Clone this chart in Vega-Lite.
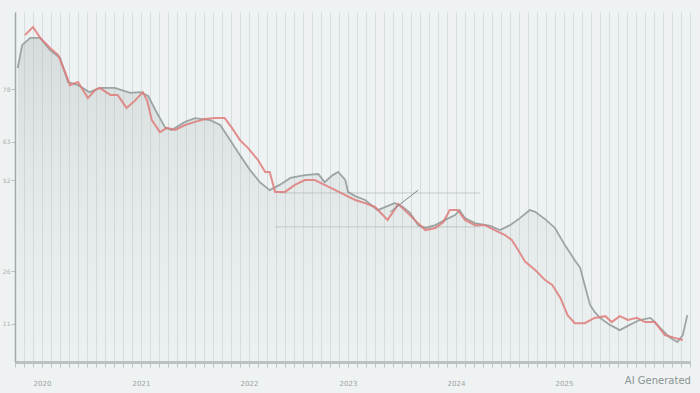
{
  "$schema": "https://vega.github.io/schema/vega-lite/v6.json",
  "width": 675,
  "height": 350,
  "autosize": {"type": "none"},
  "padding": {"left": 15, "top": 12, "right": 10, "bottom": 31},
  "background": "#eef2f2",
  "config": {"view": {"stroke": null}, "font": "DejaVu Sans"},
  "title": {"text": "AI Generated", "orient": "bottom", "anchor": "end", "fontSize": 10, "fontWeight": "normal", "color": "#8c9494", "offset": -10, "font": "DejaVu Sans"},
  "datasets": {
    "series": [
      {"t": 1.1, "v": 93.4, "s": "A"}, {"t": 2.0, "v": 95.7, "s": "A"}, {"t": 2.8, "v": 92.6, "s": "A"}, {"t": 3.9, "v": 89.7, "s": "A"},
      {"t": 4.8, "v": 87.7, "s": "A"}, {"t": 5.6, "v": 82.6, "s": "A"}, {"t": 6.1, "v": 79.1, "s": "A"}, {"t": 7.0, "v": 80.0, "s": "A"},
      {"t": 8.1, "v": 75.4, "s": "A"}, {"t": 8.9, "v": 77.7, "s": "A"}, {"t": 9.4, "v": 78.3, "s": "A"}, {"t": 10.6, "v": 76.3, "s": "A"},
      {"t": 11.4, "v": 76.3, "s": "A"}, {"t": 12.4, "v": 72.6, "s": "A"}, {"t": 13.3, "v": 74.6, "s": "A"}, {"t": 14.2, "v": 77.1, "s": "A"},
      {"t": 14.7, "v": 74.6, "s": "A"}, {"t": 15.2, "v": 69.1, "s": "A"}, {"t": 16.1, "v": 65.7, "s": "A"}, {"t": 16.9, "v": 66.9, "s": "A"},
      {"t": 17.8, "v": 66.3, "s": "A"}, {"t": 18.9, "v": 67.7, "s": "A"}, {"t": 20.0, "v": 68.6, "s": "A"}, {"t": 21.1, "v": 69.4, "s": "A"},
      {"t": 22.2, "v": 69.7, "s": "A"}, {"t": 23.3, "v": 69.7, "s": "A"}, {"t": 24.1, "v": 66.9, "s": "A"}, {"t": 25.0, "v": 63.4, "s": "A"},
      {"t": 25.9, "v": 61.1, "s": "A"}, {"t": 27.0, "v": 57.7, "s": "A"}, {"t": 27.8, "v": 54.3, "s": "A"}, {"t": 28.3, "v": 54.3, "s": "A"},
      {"t": 28.9, "v": 48.6, "s": "A"}, {"t": 30.0, "v": 48.6, "s": "A"}, {"t": 31.1, "v": 50.6, "s": "A"}, {"t": 32.2, "v": 52.0, "s": "A"},
      {"t": 33.3, "v": 52.0, "s": "A"}, {"t": 34.4, "v": 50.6, "s": "A"}, {"t": 35.6, "v": 49.1, "s": "A"}, {"t": 36.7, "v": 47.7, "s": "A"},
      {"t": 37.8, "v": 46.3, "s": "A"}, {"t": 38.9, "v": 45.4, "s": "A"}, {"t": 40.0, "v": 44.3, "s": "A"}, {"t": 41.4, "v": 40.6, "s": "A"},
      {"t": 42.6, "v": 45.1, "s": "A"}, {"t": 43.3, "v": 43.4, "s": "A"}, {"t": 44.4, "v": 40.6, "s": "A"}, {"t": 45.6, "v": 37.7, "s": "A"},
      {"t": 46.7, "v": 38.3, "s": "A"}, {"t": 47.6, "v": 40.0, "s": "A"}, {"t": 48.3, "v": 43.4, "s": "A"}, {"t": 49.2, "v": 43.4, "s": "A"},
      {"t": 50.0, "v": 40.6, "s": "A"}, {"t": 51.1, "v": 39.1, "s": "A"}, {"t": 52.2, "v": 39.1, "s": "A"}, {"t": 53.3, "v": 37.7, "s": "A"},
      {"t": 54.4, "v": 36.3, "s": "A"}, {"t": 55.2, "v": 34.9, "s": "A"}, {"t": 55.9, "v": 32.0, "s": "A"}, {"t": 56.7, "v": 28.6, "s": "A"},
      {"t": 57.8, "v": 26.3, "s": "A"}, {"t": 58.9, "v": 23.4, "s": "A"}, {"t": 59.7, "v": 22.0, "s": "A"}, {"t": 60.6, "v": 18.3, "s": "A"},
      {"t": 61.4, "v": 13.4, "s": "A"}, {"t": 62.2, "v": 11.1, "s": "A"}, {"t": 63.3, "v": 11.1, "s": "A"}, {"t": 64.4, "v": 12.6, "s": "A"},
      {"t": 65.6, "v": 13.1, "s": "A"}, {"t": 66.3, "v": 11.4, "s": "A"}, {"t": 67.2, "v": 13.1, "s": "A"}, {"t": 68.1, "v": 12.0, "s": "A"},
      {"t": 69.1, "v": 12.6, "s": "A"}, {"t": 70.0, "v": 11.4, "s": "A"}, {"t": 71.1, "v": 11.4, "s": "A"}, {"t": 72.2, "v": 7.7, "s": "A"},
      {"t": 73.3, "v": 6.9, "s": "A"}, {"t": 74.2, "v": 6.3, "s": "A"},
      {"t": 0.3, "v": 84.0, "s": "B"}, {"t": 0.8, "v": 90.6, "s": "B"}, {"t": 1.7, "v": 92.6, "s": "B"}, {"t": 2.8, "v": 92.6, "s": "B"},
      {"t": 3.9, "v": 89.1, "s": "B"}, {"t": 5.0, "v": 86.9, "s": "B"}, {"t": 5.9, "v": 80.0, "s": "B"}, {"t": 7.0, "v": 79.1, "s": "B"},
      {"t": 8.3, "v": 77.1, "s": "B"}, {"t": 9.4, "v": 78.3, "s": "B"}, {"t": 11.1, "v": 78.3, "s": "B"}, {"t": 12.8, "v": 76.9, "s": "B"},
      {"t": 13.9, "v": 77.1, "s": "B"}, {"t": 14.8, "v": 76.0, "s": "B"}, {"t": 15.6, "v": 72.0, "s": "B"}, {"t": 16.7, "v": 66.9, "s": "B"},
      {"t": 17.4, "v": 66.3, "s": "B"}, {"t": 18.9, "v": 68.6, "s": "B"}, {"t": 20.0, "v": 69.7, "s": "B"}, {"t": 21.7, "v": 69.1, "s": "B"},
      {"t": 22.8, "v": 67.7, "s": "B"}, {"t": 23.9, "v": 63.4, "s": "B"}, {"t": 25.0, "v": 59.1, "s": "B"}, {"t": 26.1, "v": 54.9, "s": "B"},
      {"t": 27.2, "v": 51.4, "s": "B"}, {"t": 28.3, "v": 49.1, "s": "B"}, {"t": 29.4, "v": 50.6, "s": "B"}, {"t": 30.6, "v": 52.6, "s": "B"},
      {"t": 32.2, "v": 53.4, "s": "B"}, {"t": 33.7, "v": 53.7, "s": "B"}, {"t": 34.4, "v": 51.4, "s": "B"}, {"t": 35.3, "v": 53.4, "s": "B"},
      {"t": 35.9, "v": 54.3, "s": "B"}, {"t": 36.7, "v": 52.0, "s": "B"}, {"t": 37.0, "v": 48.6, "s": "B"}, {"t": 37.8, "v": 47.4, "s": "B"},
      {"t": 38.9, "v": 46.3, "s": "B"}, {"t": 40.3, "v": 43.4, "s": "B"}, {"t": 41.7, "v": 44.9, "s": "B"}, {"t": 42.2, "v": 45.4, "s": "B"},
      {"t": 43.1, "v": 44.3, "s": "B"}, {"t": 43.9, "v": 42.6, "s": "B"}, {"t": 44.8, "v": 39.1, "s": "B"}, {"t": 45.6, "v": 38.3, "s": "B"},
      {"t": 46.7, "v": 39.1, "s": "B"}, {"t": 47.8, "v": 40.6, "s": "B"}, {"t": 48.9, "v": 42.0, "s": "B"}, {"t": 49.4, "v": 43.4, "s": "B"},
      {"t": 50.0, "v": 41.1, "s": "B"}, {"t": 51.1, "v": 39.7, "s": "B"}, {"t": 52.8, "v": 38.9, "s": "B"}, {"t": 53.9, "v": 37.7, "s": "B"},
      {"t": 55.0, "v": 39.1, "s": "B"}, {"t": 56.1, "v": 41.1, "s": "B"}, {"t": 57.2, "v": 43.4, "s": "B"}, {"t": 57.8, "v": 42.9, "s": "B"},
      {"t": 59.0, "v": 40.6, "s": "B"}, {"t": 60.0, "v": 38.3, "s": "B"}, {"t": 61.1, "v": 33.4, "s": "B"}, {"t": 62.2, "v": 29.1, "s": "B"},
      {"t": 62.8, "v": 26.9, "s": "B"}, {"t": 63.3, "v": 22.0, "s": "B"}, {"t": 63.9, "v": 16.3, "s": "B"}, {"t": 64.4, "v": 14.3, "s": "B"},
      {"t": 65.0, "v": 12.6, "s": "B"}, {"t": 66.1, "v": 10.6, "s": "B"}, {"t": 67.2, "v": 9.1, "s": "B"}, {"t": 68.3, "v": 10.6, "s": "B"},
      {"t": 69.4, "v": 12.0, "s": "B"}, {"t": 70.6, "v": 12.6, "s": "B"}, {"t": 71.1, "v": 11.4, "s": "B"}, {"t": 71.7, "v": 9.7, "s": "B"},
      {"t": 72.8, "v": 6.9, "s": "B"}, {"t": 73.6, "v": 5.7, "s": "B"}, {"t": 74.2, "v": 7.7, "s": "B"}, {"t": 74.7, "v": 13.4, "s": "B"}
    ],
    "marks": [
      {"t": 29.4, "v": 48.3, "g": "L1"}, {"t": 51.7, "v": 48.3, "g": "L1"},
      {"t": 28.9, "v": 38.6, "g": "L2"}, {"t": 51.7, "v": 38.6, "g": "L2"},
      {"t": 41.7, "v": 42.9, "g": "P"}, {"t": 44.8, "v": 49.1, "g": "P"}
    ]
  },
  "encoding": {
    "x": {"field": "t", "type": "quantitative", "scale": {"domain": [0, 75], "nice": false, "zero": false},
      "axis": {"title": null, "values": [0,1,2,3,4,5,6,7,8,9,10,11,12,13,14,15,16,17,18,19,20,21,22,23,24,25,26,27,28,29,30,31,32,33,34,35,36,37,38,39,40,41,42,43,44,45,46,47,48,49,50,51,52,53,54,55,56,57,58,59,60,61,62,63,64,65,66,67,68,69,70,71,72,73,74,75],
        "labelExpr": "datum.value == 3 ? '2020' : datum.value == 14 ? '2021' : datum.value == 26 ? '2022' : datum.value == 37 ? '2023' : datum.value == 49 ? '2024' : datum.value == 61 ? '2025' : ''",
        "labelFontSize": 7, "labelColor": "#9aa2a2", "labelPadding": 12, "labelOverlap": false, "labelBound": false, "labelFlush": false,
        "grid": true, "gridColor": "#d6dddd", "gridWidth": 1,
        "domainColor": "#b8c0c0", "domainWidth": 3, "tickColor": "#bcc4c4", "tickSize": 5}},
    "y": {"field": "v", "type": "quantitative", "scale": {"domain": [0, 100], "nice": false},
      "axis": {"title": null, "values": [11, 26, 52, 63, 78], "labelFontSize": 6, "labelColor": "#a8b0b0", "grid": false,
        "domainColor": "#a0a8a8", "domainWidth": 1.5, "tickColor": "#b8c0c0", "tickSize": 4, "labelPadding": 1}}
  },
  "layer": [
    {
      "data": {"name": "series"},
      "transform": [{"filter": "datum.s === 'B'"}],
      "mark": {"type": "area", "interpolate": "linear", "color": {"gradient": "linear", "x1": 0, "y1": 0, "x2": 0, "y2": 1, "stops": [{"offset": 0, "color": "rgba(170,180,180,0.35)"}, {"offset": 1, "color": "rgba(200,208,208,0.05)"}]}}
    },
    {
      "data": {"name": "marks"},
      "transform": [{"filter": "datum.g !== 'P'"}],
      "mark": {"type": "line", "color": "#b8c0c0", "strokeWidth": 1, "opacity": 0.8},
      "encoding": {"detail": {"field": "g"}}
    },
    {
      "data": {"name": "series"},
      "transform": [{"filter": "datum.s === 'B'"}],
      "mark": {"type": "line", "color": "#8f9898", "strokeWidth": 1.8, "opacity": 0.85}
    },
    {
      "data": {"name": "series"},
      "transform": [{"filter": "datum.s === 'A'"}],
      "mark": {"type": "line", "color": "#de7c7a", "strokeWidth": 2, "opacity": 0.85}
    },
    {
      "data": {"name": "marks"},
      "transform": [{"filter": "datum.g === 'P'"}],
      "mark": {"type": "line", "color": "#7f8888", "strokeWidth": 1}
    }
  ]
}
